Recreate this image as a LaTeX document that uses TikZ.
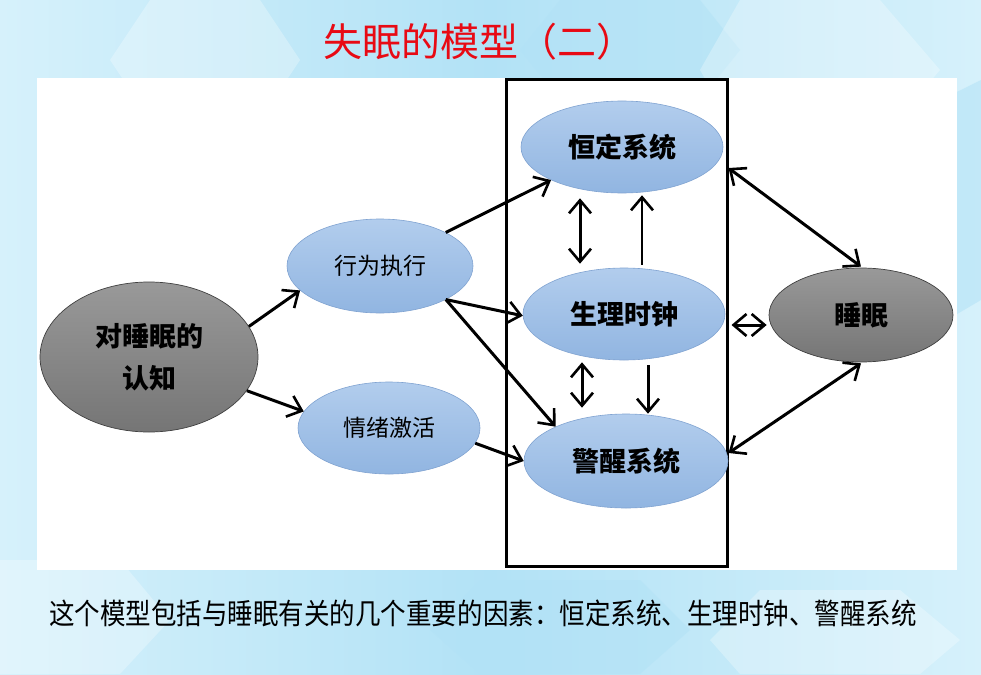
\documentclass[tikz,border=0pt]{standalone}
\usepackage{fontspec}
\newfontfamily\cjk{Noto Sans CJK SC}
\usetikzlibrary{shapes.geometric,arrows.meta,calc}
\definecolor{bgbase}{RGB}{214,241,251}
\definecolor{bgdeep}{RGB}{178,226,246}
\definecolor{bluetop}{RGB}{178,205,237}
\definecolor{bluebot}{RGB}{145,181,225}
\definecolor{blueline}{RGB}{128,163,209}
\definecolor{titlered}{RGB}{232,10,20}
\begin{document}
\begin{tikzpicture}[x=1pt,y=-1pt,
  tip/.tip={Straight Barb[length=13pt,width=22pt,line width=2.6pt]},
  arr/.style={line width=3pt,-tip},
  dbl/.style={line width=3pt,tip-tip},
  blueell/.style={ellipse,draw=blueline,line width=0.6pt,top color=bluetop,bottom color=bluebot,inner sep=0pt},
  grayell/.style={ellipse,draw=black!75,line width=0.7pt,top color=black!40,bottom color=black!54,inner sep=0pt},
  boldlbl/.style={font=\cjk\bfseries\fontsize{27}{42}\selectfont,align=center},
  reglbl/.style={font=\cjk\fontsize{23}{26}\selectfont},
  hexw/.style={fill=white,opacity=0.28},
  hexb/.style={fill=bgdeep,opacity=0.55}
]
\useasboundingbox (0,0) rectangle (981,674);
% background
\fill[left color=bgbase,right color=bgdeep] (0,0) rectangle (490,674);
\fill[left color=bgdeep,right color=bgbase] (490,0) rectangle (981,674);
\fill[hexw] (150,0) -- (260,0) -- (300,60) -- (260,120) -- (150,120) -- (110,60) -- cycle;
\fill[hexb] (560,0) -- (700,0) -- (740,50) -- (700,100) -- (560,100) -- (520,50) -- cycle;
\fill[hexw] (740,0) -- (880,0) -- (940,70) -- (880,140) -- (740,140) -- (700,70) -- cycle;
\fill[hexb] (900,120) -- (981,80) -- (981,300) -- (930,330) -- cycle;
\fill[hexw] (0,560) -- (120,560) -- (170,620) -- (120,674) -- (0,674) -- cycle;
\fill[hexb] (480,580) -- (640,580) -- (690,630) -- (640,674) -- (480,674) -- (430,630) -- cycle;
\fill[hexw] (760,590) -- (900,590) -- (960,640) -- (920,674) -- (740,674) -- (710,640) -- cycle;
% title
\node[font=\cjk\fontsize{39}{44}\selectfont,text=titlered] (title) at (479,42) {失眠的模型（二）};
% white panel
\fill[white] (37,78) rectangle (957,570);
% box
\node[draw=black,line width=3pt,minimum width=221pt,minimum height=486pt,inner sep=0pt] (box) at (616.5,323) {};
% ellipses
\node[grayell,minimum width=218pt,minimum height=150pt,boldlbl] (cog) at (149,357) {对睡眠的\\认知};
\node[blueell,minimum width=186pt,minimum height=94pt,reglbl] (act) at (380,266) {行为执行};
\node[blueell,minimum width=182pt,minimum height=92pt,reglbl] (emo) at (389,428) {情绪激活};
\node[blueell,minimum width=202pt,minimum height=92pt,boldlbl] (homeo) at (622,147) {恒定系统};
\node[blueell,minimum width=202pt,minimum height=92pt,boldlbl] (clock) at (624,314) {生理时钟};
\node[blueell,minimum width=204pt,minimum height=94pt,boldlbl] (alert) at (626,461) {警醒系统};
\node[grayell,minimum width=184pt,minimum height=94pt,boldlbl] (sleep) at (861,315) {睡眠};
% arrows
\draw[arr] (cog.17) -- (act.197);
\draw[arr] (cog.-19) -- (emo.169);
\draw[arr] (act.27) -- (homeo.205);
\draw[arr] (act.-27) -- (clock.181);
\draw[arr] (act.-27) -- (alert.154);
\draw[arr] (emo.-10) -- (alert.180);
\draw[dbl] ([xshift=-42pt,yshift=-5pt]homeo.south) -- ([xshift=-44pt,yshift=4pt]clock.north);
\draw[arr,line width=2.2pt] ([xshift=18pt,yshift=3pt]clock.north) -- ([xshift=20pt,yshift=-2pt]homeo.south);
\draw[dbl] ([xshift=-42pt,yshift=-2pt]clock.south) -- ([xshift=-44pt,yshift=6pt]alert.north);
\draw[arr] ([xshift=24pt,yshift=-5pt]clock.south) -- ([xshift=22pt,yshift=0pt]alert.north);
\draw[dbl] ([yshift=155pt]box.east) -- ([yshift=1pt]sleep.north);
\draw[dbl] ([xshift=3pt,yshift=-2pt]box.east) -- ([xshift=-2pt,yshift=-10pt]sleep.west);
\draw[dbl] ([yshift=-130pt]box.east) -- ([yshift=-1pt]sleep.south);
% caption
\node[font=\cjk\fontsize{29}{34}\selectfont] (caption) at (483,613) {\scalebox{0.88}[1]{这个模型包括与睡眠有关的几个重要的因素：恒定系统、生理时钟、警醒系统}};
\end{tikzpicture}
\end{document}
